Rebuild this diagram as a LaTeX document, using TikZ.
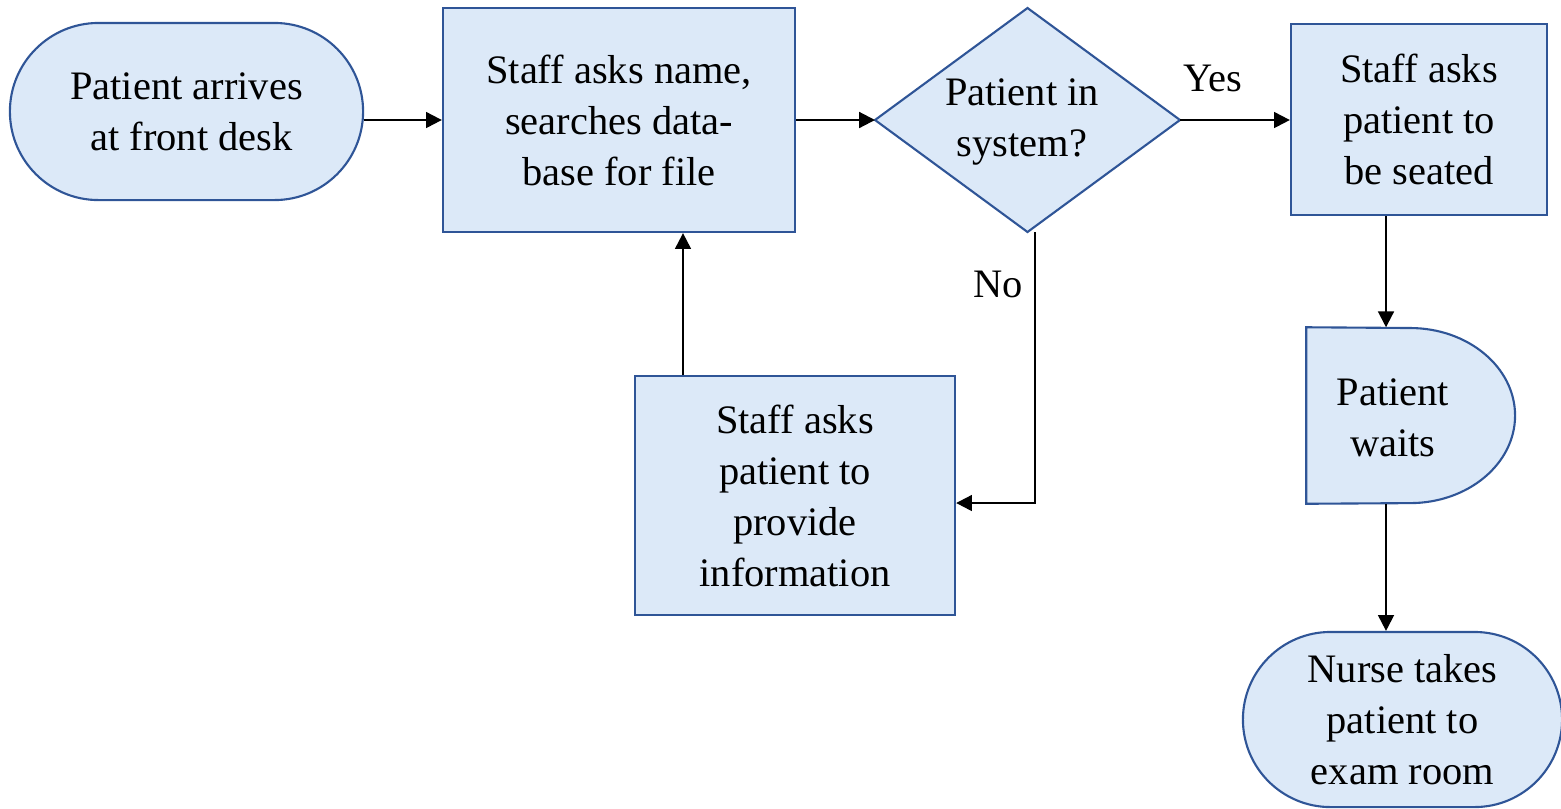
\documentclass[tikz,border=0pt]{standalone}
\usepackage{fontspec}
\setmainfont{Liberation Serif}
\usetikzlibrary{shapes.geometric,shapes.misc,arrows.meta}
\definecolor{boxfill}{RGB}{220,233,248}
\definecolor{boxline}{RGB}{47,85,151}
\tikzset{
  shp/.style={draw=boxline,fill=boxfill,line width=0.6pt},
  txt/.style={align=center,font=\fontsize{11.5pt}{14.5pt}\selectfont,inner sep=0pt},
  procbox/.style={shp,txt,rectangle},
  termbox/.style={shp,txt,rounded rectangle},
  arr/.style={line width=0.6pt,-{Triangle[length=4.5pt,width=4.5pt]}},
  lbl/.style={txt}
}
\begin{document}
\begin{tikzpicture}[x=0.01cm,y=-0.01cm]
\useasboundingbox (0,0) rectangle (1561,808);
\clip (0,0) rectangle (1561,808);
% nodes
\node[termbox,minimum width=3.53cm,minimum height=1.77cm] (start) at (186.5,111.5) {Patient arrives\\\ at front desk};
\node[procbox,minimum width=3.52cm,minimum height=2.24cm] (search) at (619,120) {Staff asks name,\\searches data-\\base for file};
% decision diamond
\coordinate (decW) at (875,120);
\coordinate (decN) at (1027.5,8);
\coordinate (decE) at (1180,120);
\coordinate (decS) at (1027.5,232);
\draw[shp] (decW) -- (decN) -- (decE) -- (decS) -- cycle;
\node[txt] (dec) at (1022,122) {Patient in\\system?};
\node[procbox,minimum width=2.56cm,minimum height=1.91cm] (seat) at (1419,119.5) {Staff asks\\patient to\\be seated};
\node[procbox,minimum width=3.20cm,minimum height=2.39cm] (info) at (795,495.5) {Staff asks\\patient to\\provide\\information};
% delay shape
\node[minimum width=2.08cm,minimum height=1.75cm,inner sep=0pt] (wait) at (1411,415.5) {};
\draw[shp] (wait.south west) -- (wait.north west) -- (1410,328)
  arc[start angle=90,end angle=-90,x radius=1.05cm,y radius=0.875cm] -- cycle;
\node[txt] (waittext) at (1393,418) {Patient\\waits};
\node[termbox,minimum width=3.19cm,minimum height=1.75cm] (nurse) at (1402.5,719.5) {Nurse takes\\patient to\\exam room};
% helper coordinates
\coordinate (vx) at (1386,0);
\coordinate (upx) at (683,0);
\coordinate (row) at (0,120);
\coordinate (noturn) at (1035,503);
% connectors
\draw[arr] (start.east |- row) -- (search.west);
\draw[arr] (search.east) -- (decW);
\draw[arr] (decE) -- (seat.west |- decE);
\draw[arr] (seat.south -| vx) -- (wait.north -| vx);
\draw[arr] (wait.south -| vx) -- (nurse.north -| vx);
\draw[arr] (decS -| noturn) -- (noturn) -- (noturn -| info.east);
\draw[arr] (info.north -| upx) -- (search.south -| upx);
% labels
\node[lbl] (yes) at (1213,78) {Yes};
\node[lbl] (no) at (998,284) {No};
\end{tikzpicture}
\end{document}
